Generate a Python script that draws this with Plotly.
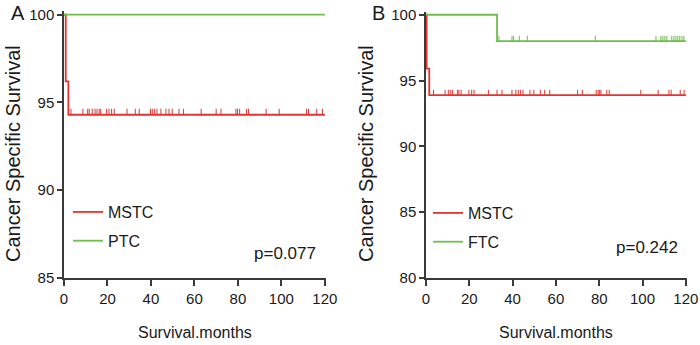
import plotly.graph_objects as go

# ---------------- data ----------------
# Panel A
A_MSTC_time = [0, 0.8, 2, 120]
A_MSTC_surv = [100, 96.2, 94.3, 94.3]
A_MSTC_censor = [2.1, 3.2, 8.7, 10.9, 11.6, 13, 14.3, 15.2, 16.2, 16.9, 19.6, 20.7, 21.9, 23.1,
                 29, 32.8, 34.6, 39.8, 40.6, 41.7, 42.8, 44.6, 46.9, 48.3, 49.8, 52.9, 55,
                 63.1, 70, 72.2, 79.1, 79.8, 80.8, 84, 84.9, 93, 99, 111.6, 112.5, 116.3, 118.9]
A_PTC_time = [0, 120]
A_PTC_surv = [100, 100]
A_PTC_censor = []

# Panel B
B_MSTC_time = [0, 0.3, 1.5, 120]
B_MSTC_surv = [100, 95.9, 93.9, 93.9]
B_MSTC_censor = [3.5, 8.8, 10.3, 11.2, 12.2, 14.5, 15.2, 16.2, 19.8, 21.1, 22.2, 28.8, 32.8,
                 35.1, 39.7, 41.5, 42.6, 43.7, 44.8, 48, 49.8, 52.8, 54.8, 57.1, 70, 72.2,
                 78.6, 79.5, 80.2, 80.8, 83.5, 84.6, 99.2, 107.2, 112.2, 113.2, 117.4, 119.2]
B_FTC_time = [0, 32.8, 120]
B_FTC_surv = [100, 98.0, 98.0]
B_FTC_censor = [33.7, 39.7, 40.5, 43.1, 46.8, 78.2, 106.2, 108.5, 109.4, 110.3, 111.2, 113.5,
                114.5, 115.4, 116.3, 117.2, 118.2, 119.1]

A_yticks = [85, 90, 95, 100]
B_yticks = [80, 85, 90, 95, 100]
x_ticks = [0, 20, 40, 60, 80, 100, 120]
p_A = "p=0.077"
p_B = "p=0.242"

# ---------------- style ----------------
RED = "#e3342f"
GREEN = "#6dbe4b"
NARROW = "Liberation Sans Narrow, Arial Narrow, Liberation Sans, Arial, sans-serif"
REG = "Liberation Sans, Arial, sans-serif"
TXT = "#1a1a1a"


def surv_at(times, surv, t):
    s = surv[0]
    for ti, si in zip(times, surv):
        if ti <= t:
            s = si
    return s


def censor_xy(times, surv, censor, h):
    xs, ys = [], []
    for c in censor:
        s = surv_at(times, surv, c)
        xs += [c, c, None]
        ys += [s, s + h, None]
    return xs, ys


fig = go.Figure()


def add_group(times, surv, censor, color, name, xa, ya, legend, h):
    fig.add_trace(go.Scatter(
        x=times, y=surv, mode="lines", line=dict(color=color, width=1.8, shape="hv"),
        name=name, xaxis=xa, yaxis=ya, legend=legend, legendgroup=name + legend,
        hoverinfo="skip"))
    if censor:
        cx, cy = censor_xy(times, surv, censor, h)
        fig.add_trace(go.Scatter(
            x=cx, y=cy, mode="lines", line=dict(color=color, width=1),
            showlegend=False, xaxis=xa, yaxis=ya, hoverinfo="skip"))


add_group(A_MSTC_time, A_MSTC_surv, A_MSTC_censor, RED, "MSTC", "x", "y", "legend", 0.34)
add_group(A_PTC_time, A_PTC_surv, A_PTC_censor, GREEN, "PTC", "x", "y", "legend", 0.34)
add_group(B_MSTC_time, B_MSTC_surv, B_MSTC_censor, RED, "MSTC", "x2", "y2", "legend2", 0.4)
add_group(B_FTC_time, B_FTC_surv, B_FTC_censor, GREEN, "FTC", "x2", "y2", "legend2", 0.4)

axis_common = dict(showgrid=False, zeroline=False, showline=True, linecolor="#3a3a3a",
                   linewidth=1.5, ticks="outside", tickcolor="#3a3a3a", tickwidth=1.5,
                   tickfont=dict(family=NARROW, size=15, color=TXT))

legend_common = dict(xanchor="left", yanchor="top", bgcolor="rgba(0,0,0,0)",
                     font=dict(family=NARROW, size=16, color=TXT),
                     itemwidth=30, tracegroupgap=5)

fig.update_layout(
    width=700, height=345, margin=dict(l=0, r=0, t=0, b=0, autoexpand=False),
    plot_bgcolor="white", paper_bgcolor="white",
    xaxis=dict(domain=[64 / 700, 325.5 / 700], range=[0, 120.3], tickvals=x_ticks,
               ticklen=6, anchor="y", **axis_common),
    yaxis=dict(domain=[1 - 278 / 345, 1 - 11.2 / 345], range=[85, 100.2], tickvals=A_yticks,
               ticklen=5, anchor="x", **axis_common),
    xaxis2=dict(domain=[426 / 700, 686.5 / 700], range=[0, 120.3], tickvals=x_ticks,
                ticklen=6, anchor="y2", **axis_common),
    yaxis2=dict(domain=[1 - 278 / 345, 1 - 12.1 / 345], range=[80, 100.2], tickvals=B_yticks,
                ticklen=5, anchor="x2", **axis_common),
    legend=dict(x=68 / 700, y=1 - 195 / 345, **legend_common),
    legend2=dict(x=428 / 700, y=1 - 196 / 345, **legend_common),
    showlegend=True,
)

annos = [
    dict(text=p_A, x=117, y=86.4, xref="x", yref="y", xanchor="right", yanchor="middle",
         showarrow=False, font=dict(family=NARROW, size=17, color=TXT)),
    dict(text=p_B, x=117.5, y=82.3, xref="x2", yref="y2", xanchor="right", yanchor="middle",
         showarrow=False, font=dict(family=NARROW, size=17, color=TXT)),
    dict(text="A", x=18 / 700, y=1, xref="paper", yref="paper", xanchor="center",
         yanchor="top", showarrow=False, font=dict(family=REG, size=20, color=TXT)),
    dict(text="B", x=378 / 700, y=1, xref="paper", yref="paper", xanchor="center",
         yanchor="top", showarrow=False, font=dict(family=REG, size=20, color=TXT)),
    dict(text="Cancer Specific Survival", x=0, y=1 - 154 / 345, xref="paper",
         yref="paper", textangle=-90, xanchor="left", yanchor="middle", showarrow=False,
         font=dict(family=REG, size=20, color=TXT)),
    dict(text="Cancer Specific Survival", x=353 / 700, y=1 - 154 / 345, xref="paper",
         yref="paper", textangle=-90, xanchor="left", yanchor="middle", showarrow=False,
         font=dict(family=REG, size=20, color=TXT)),
    dict(text="Survival.months", x=195 / 700, y=1 - 332 / 345, xref="paper", yref="paper",
         xanchor="center", yanchor="middle", showarrow=False,
         font=dict(family=NARROW, size=16, color=TXT)),
    dict(text="Survival.months", x=556 / 700, y=1 - 332 / 345, xref="paper", yref="paper",
         xanchor="center", yanchor="middle", showarrow=False,
         font=dict(family=NARROW, size=16, color=TXT)),
]
fig.update_layout(annotations=annos)

fig.write_html("out.html", config={"displayModeBar": False},
               post_script="document.body.style.margin='0';document.body.style.overflow='hidden';")
